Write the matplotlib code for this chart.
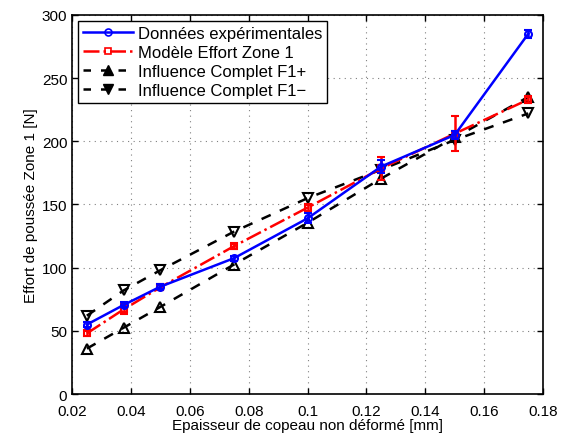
import matplotlib
matplotlib.use("Agg")
import matplotlib.pyplot as plt
from matplotlib.lines import Line2D

# chip thickness [mm]
epaisseur = [0.025, 0.0375, 0.05, 0.075, 0.1, 0.125, 0.15, 0.175]

exp_vals = [55, 70.5, 85, 107.5, 139, 180, 205, 285]
exp_err = [2, 2, 2, 2, 4, 5, 3, 3]

modele_vals = [48, 67, 84.5, 117, 147.5, 178.5, 206, 233]
modele_err = [2, 4, 2, 2, 3, 9, 14, 3]

f1_plus = [36, 52.5, 69, 102.5, 135.5, 170.5, 203, 235]
f1_minus = [62, 82, 98, 128.5, 155, 177.5, 201, 222]

labels = ['Données expérimentales', 'Modèle Effort Zone 1',
          'Influence Complet F1+', 'Influence Complet F1\u2212']

plt.rcParams['font.family'] = ['Liberation Sans', 'DejaVu Sans']
plt.rcParams['font.size'] = 11

fig = plt.figure(figsize=(5.68, 4.39), dpi=100)
ax = fig.add_axes([0.127, 0.100, 0.829, 0.864])

ax.errorbar(epaisseur, exp_vals, yerr=exp_err, color='blue', linestyle='-',
            linewidth=1.8, marker='o', markersize=5, markerfacecolor='none',
            markeredgewidth=1.5, capsize=3, elinewidth=1.8, zorder=4)
ax.errorbar(epaisseur, modele_vals, yerr=modele_err, color='red', linestyle='-.',
            linewidth=1.8, marker='s', markersize=5, markerfacecolor='none',
            markeredgewidth=1.5, capsize=3, elinewidth=1.8, zorder=3)
ax.plot(epaisseur, f1_plus, color='black', linestyle='--', linewidth=1.8,
        dashes=(4, 4), marker='^', markersize=7, markerfacecolor='none',
        markeredgewidth=1.5, zorder=2)
ax.plot(epaisseur, f1_minus, color='black', linestyle='--', linewidth=1.8,
        dashes=(4, 4), marker='v', markersize=7, markerfacecolor='none',
        markeredgewidth=1.5, zorder=2)

ax.set_xlim(0.02, 0.18)
ax.set_ylim(0, 300)
ax.set_xticks([0.02, 0.04, 0.06, 0.08, 0.1, 0.12, 0.14, 0.16, 0.18])
ax.set_xticklabels(['0.02', '0.04', '0.06', '0.08', '0.1', '0.12', '0.14', '0.16', '0.18'])
ax.set_yticks(range(0, 301, 50))
ax.tick_params(direction='in', top=True, right=True, length=4, width=1, labelsize=11)
ax.tick_params(axis='x', pad=7)
ax.grid(True, linestyle=(0, (1, 4)), color='gray', linewidth=0.8)
for s in ax.spines.values():
    s.set_linewidth(1.2)

ax.set_xlabel('Epaisseur de copeau non déformé [mm]', labelpad=0)
ax.set_ylabel('Effort de poussée Zone 1 [N]', labelpad=3)

handles = [
    Line2D([], [], color='blue', linestyle='-', linewidth=1.8, marker='o',
           markersize=5, markerfacecolor='none', markeredgewidth=1.2),
    Line2D([], [], color='red', linestyle='-.', linewidth=1.8, marker='s',
           markersize=5, markerfacecolor='none', markeredgewidth=1.2),
    Line2D([], [], color='black', linestyle='--', linewidth=1.8, dashes=(3, 4),
           marker='^', markersize=7, markerfacecolor='black'),
    Line2D([], [], color='black', linestyle='--', linewidth=1.8, dashes=(3, 4),
           marker='v', markersize=7, markerfacecolor='black'),
]
leg = ax.legend(handles, labels, loc='upper left', fancybox=False, edgecolor='black',
                framealpha=1, borderaxespad=0.35, handlelength=3,
                handletextpad=0.3, labelspacing=0.25, borderpad=0.3,
                fontsize=12)
leg.get_frame().set_linewidth(1.0)

fig.savefig('out.png', dpi=100)
